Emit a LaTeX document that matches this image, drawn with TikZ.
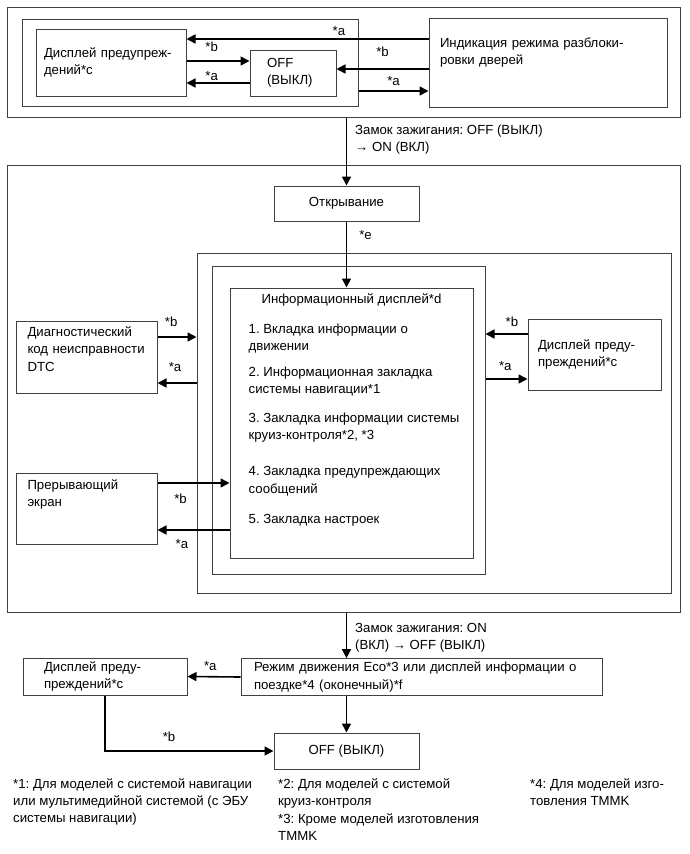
\documentclass[tikz,border=0pt]{standalone}
\usepackage{fontspec}
\setmainfont{Liberation Sans}
\usetikzlibrary{arrows.meta,positioning}

\begin{document}
\frenchspacing
\begin{tikzpicture}[
    x=1pt,y=-1pt,
    font=\fontsize{13.2}{17.5}\selectfont,
    frame/.style={draw=black!75,line width=1pt,inner sep=0pt},
    box/.style={draw=black!75,line width=1pt,align=left},
    arr/.style={-{Triangle[length=9pt,width=9pt]},line width=1.6pt},
    tag/.style={inner sep=1pt},
    item/.style={align=left,inner sep=0pt},
    note/.style={align=left,anchor=north west,inner sep=0pt,font=\fontsize{13.2}{17}\selectfont}
]
\useasboundingbox (0,0) rectangle (690,854);

% Top block
\node[frame,minimum width=673,minimum height=110] (topFrame) at (343.5,62) {};
\node[frame,minimum width=336,minimum height=87] (innerTop) at (190,62.5) {};
\node[box,minimum width=150,minimum height=67,text width=134] (warnTop) at (111,62.5) {Дисплей предупреж-\\дений*c};
\node[box,minimum width=86,minimum height=46,text width=52] (offTop) at (293,73) {OFF\\(ВЫКЛ)};
\node[box,minimum width=238,minimum height=89,text width=216,text depth=40.5pt] (doorTop) at (548,62.5) {Индикация режима разблоки-\\ровки дверей};

\draw[arr] (doorTop.west |- 0,39) -- (warnTop.east |- 0,39) node[tag,pos=0.37,above=2pt] {*a};
\draw[arr] (warnTop.east |- 0,61) -- (offTop.west |- 0,61) node[tag,pos=0.4,above=8pt] {*b};
\draw[arr] (offTop.west |- 0,83) -- (warnTop.east |- 0,83) node[tag,pos=0.6,above=1pt] {*a};
\draw[arr] (doorTop.west |- 0,69) -- (offTop.east |- 0,69) node[tag,midway,above=11pt] {*b};
\draw[arr] (innerTop.east |- 0,91) -- (doorTop.west |- 0,91) node[tag,midway,above=4pt] {*a};

\node[note] (ignOn) at (355,125) {Замок зажигания: OFF (ВЫКЛ)\\→ ON (ВКЛ)};

% Middle block
\node[frame,minimum width=673,minimum height=447] (midFrame) at (343.5,388.5) {};
\node[box,align=center,minimum width=145,minimum height=35] (open) at (346.5,203.5) {Открывание};
\node[frame,minimum width=474,minimum height=340] (frameA) at (434,423) {};
\node[frame,minimum width=273,minimum height=308] (frameB) at (348.5,420) {};
\node[frame,minimum width=243,minimum height=270] (info) at (351.5,423) {};

\node[item,below=6pt of info.north] (infoT) {Информационный дисплей*d};
\node[item,below right=36pt and 19pt of info.north west] (item1) {1. Вкладка информации о\\движении};
\node[item,below right=79pt and 19pt of info.north west] (item2) {2. Информационная закладка\\системы навигации*1};
\node[item,below right=125pt and 19pt of info.north west] (item3) {3. Закладка информации системы\\круиз-контроля*2, *3};
\node[item,below right=179pt and 19pt of info.north west] (item4) {4. Закладка предупреждающих\\сообщений};
\node[item,below right=227pt and 19pt of info.north west] (item5) {5. Закладка настроек};

\node[box,minimum width=141,minimum height=72,text width=118,text depth=51pt] (dtc) at (86.5,357) {Диагностический\\код неисправности\\DTC};
\node[box,minimum width=133,minimum height=71,text width=113] (warnMid) at (594.5,354.5) {Дисплей преду-\\преждений*c};
\node[box,minimum width=141,minimum height=71,text width=118,text depth=48.5pt] (intr) at (86.5,508.5) {Прерывающий\\экран};

\draw[arr] (open.north |- topFrame.south) -- (open.north);
\draw[arr] (open.south) -- (open.south |- info.north) node[tag,pos=0.2,right=11pt] {*e};

\draw[arr] (dtc.east |- 0,337) -- (frameA.west |- 0,337) node[tag,pos=0.35,above=9pt] {*b};
\draw[arr] (frameA.west |- 0,383) -- (dtc.east |- 0,383) node[tag,pos=0.55,above=10pt] {*a};
\draw[arr] (warnMid.west |- 0,334) -- (frameB.east |- 0,334) node[tag,pos=0.37,above=6pt] {*b};
\draw[arr] (frameB.east |- 0,379) -- (warnMid.west |- 0,379) node[tag,pos=0.47,above=7pt] {*a};
\draw[arr] (intr.east |- 0,483) -- (info.west |- 0,483) node[tag,pos=0.32,below=9pt] {*b};
\draw[arr] (info.west |- 0,530) -- (intr.east |- 0,530) node[tag,pos=0.66,below=8pt] {*a};

% Bottom block
\node[box,minimum width=361,minimum height=36,text width=335] (eco) at (421.5,677) {Режим движения Eco*3 или дисплей информации о\\поездке*4 (оконечный)*f};
\node[box,minimum width=164,minimum height=37,text width=122] (warnBot) at (105,676.5) {Дисплей преду-\\преждений*c};
\node[box,align=center,minimum width=145,minimum height=36] (offBot) at (346.5,751) {OFF (ВЫКЛ)};

\node[note] (ignOff) at (355,623) {Замок зажигания: ON\\(ВКЛ) → OFF (ВЫКЛ)};

\draw[arr] (offBot.north |- midFrame.south) -- (offBot.north |- eco.north);
\draw[arr] (eco.west) -- (warnBot.east) node[tag,pos=0.57,above=4pt] {*a};
\draw[arr] (offBot.north |- eco.south) -- (offBot.north);
\draw[arr] (warnBot.south) |- (offBot.west) node[tag,pos=0.69,above=8pt] {*b};

% Footnotes
\node[note] (fn1) at (13,778) {*1: Для моделей с системой навигации\\или мультимедийной системой (с ЭБУ\\системы навигации)};
\node[note] (fn2) at (278,778) {*2: Для моделей с системой\\круиз-контроля};
\node[note] (fn3) at (278,813) {*3: Кроме моделей изготовления\\TMMK};
\node[note] (fn4) at (530,778) {*4: Для моделей изго-\\товления TMMK};

\end{tikzpicture}
\end{document}
